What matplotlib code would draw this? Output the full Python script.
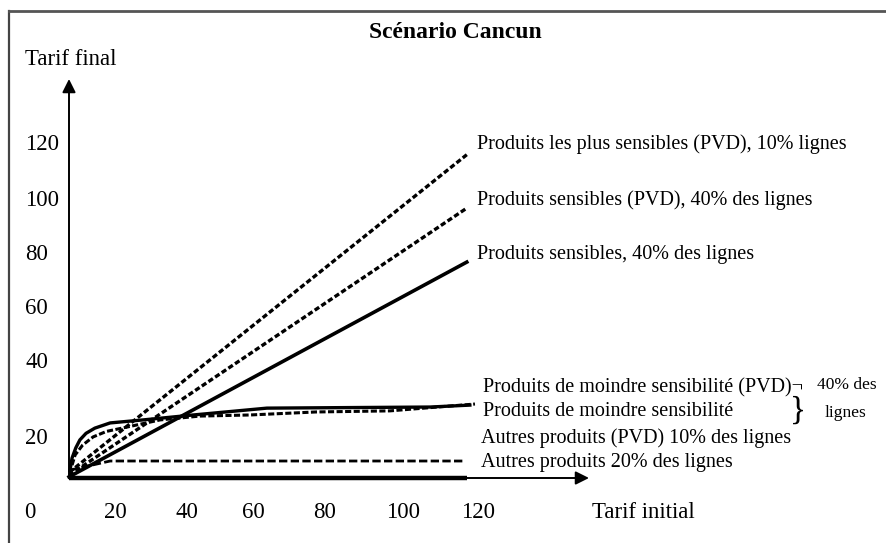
import matplotlib
matplotlib.use("Agg")
import matplotlib.pyplot as plt
from matplotlib.lines import Line2D

plt.rcParams['font.family'] = ['Liberation Serif', 'DejaVu Serif']

# ---------------- data ----------------
# straight lines: x = tarif initial, y = tarif final
x_lin = [0, 117]
y_plus_sensibles_pvd = [2, 118]
y_sensibles_pvd = [1, 98.5]
y_sensibles = [0.4, 78.8]

# curves for less-sensitive products
x_moindre_pvd = [0.3, 0.9, 2.0, 3.2, 5.0, 7.6, 12.1, 21.8, 36.5, 58.2, 106.2, 117.9]
y_moindre_pvd = [2.9, 7.3, 11.0, 13.9, 16.3, 18.2, 20.1, 21.2, 23.0, 25.5, 25.9, 26.6]
x_moindre = [0.9, 1.8, 4.0, 7.1, 11.0, 17.1, 26.8, 38.5, 53.2, 72.6, 94.4, 119.4]
y_moindre = [4.7, 8.4, 12.0, 15.0, 17.0, 18.6, 21.2, 22.6, 23.0, 24.1, 24.5, 27.0]

# other products
x_autres_pvd = [0.3, 12.1, 116.5]
y_autres_pvd = [2.9, 6.2, 6.2]
x_autres = [0, 117]
y_autres = [0, 0]

y_tick_labels = ['120', '100', '80', '60', '40', '20']
x_tick_labels = ['20', '40', '60', '80', '100', '120']

line_labels = [
    'Produits les plus sensibles (PVD), 10% lignes',
    'Produits sensibles (PVD), 40% des lignes',
    'Produits sensibles, 40% des lignes',
    'Produits de moindre sensibilité (PVD)¬',
    'Produits de moindre sensibilité',
    'Autres produits (PVD) 10% des lignes',
    'Autres produits 20% des lignes',
]

# ---------------- layout ----------------
W, H = 886, 543
fig = plt.figure(figsize=(W / 100, H / 100), dpi=100)
ax = fig.add_axes([0, 0, 1, 1])
ox, oy, sx, sy = 69, 478, 3.4, 2.74  # pixel origin and scale
ax.set_xlim(-ox / sx, (W - ox) / sx)
ax.set_ylim((oy - H) / sy, oy / sy)
ax.axis('off')


def fx(px):
    return px / W


def fy(py):
    return 1 - py / H


# frame (left and top borders)
fig.add_artist(Line2D([fx(8.5), fx(8.5)], [0, fy(10.5)], color='#444444', lw=1.6,
                      transform=fig.transFigure))
fig.add_artist(Line2D([fx(8.5), 1], [fy(10.5), fy(10.5)], color='#555555', lw=2.0,
                      transform=fig.transFigure))

# axes arrows
arrow = dict(arrowstyle='-|>', lw=1.4, color='black', mutation_scale=20,
             shrinkA=0, shrinkB=0)
ax.annotate('', xy=(0, (oy - 79) / sy), xytext=(0, 0), arrowprops=arrow)
ax.annotate('', xy=((589 - ox) / sx, 0), xytext=(0, 0), arrowprops=arrow)

dash_big = (0, (1.6, 0.8))
ax.plot(x_lin, y_plus_sensibles_pvd, color='black', lw=2.4, ls=dash_big)
ax.plot(x_lin, y_sensibles_pvd, color='black', lw=2.4, ls=dash_big)
ax.plot(x_lin, y_sensibles, color='black', lw=2.6)
ax.plot(x_moindre_pvd, y_moindre_pvd, color='black', lw=2.4)
ax.plot(x_moindre, y_moindre, color='black', lw=2.2, ls=(0, (2.0, 0.8)))
ax.plot(x_autres_pvd, y_autres_pvd, color='black', lw=2.0, ls=(0, (3.0, 1.2)))
ax.plot(x_autres, y_autres, color='black', lw=3.2, solid_capstyle='butt')

# title and axis titles
fig.text(fx(455), fy(33), 'Scénario Cancun', ha='center', va='center',
         fontsize=17, fontweight='bold')
fig.text(fx(25), fy(60), 'Tarif final', ha='left', va='center', fontsize=16.5)
fig.text(fx(592), fy(512), 'Tarif initial', ha='left', va='center', fontsize=16.5)

# tick labels (schematic positions)
y_tick_py = [144, 200, 254, 308, 363, 438]
for lab, py in zip(y_tick_labels, y_tick_py):
    fig.text(fx(25), fy(py), lab, ha='left', va='center', fontsize=16.5)
x_tick_px = [115, 187, 253, 325, 403, 478]
for lab, px in zip(x_tick_labels, x_tick_px):
    fig.text(fx(px), fy(512), lab, ha='center', va='center', fontsize=16.5)
fig.text(fx(30), fy(512), '0', ha='center', va='center', fontsize=16.5)

# line labels
label_pos = [(477, 144), (477, 200), (477, 254), (483, 388), (483, 412),
             (481, 438), (481, 462)]
for lab, (px, py) in zip(line_labels, label_pos):
    fig.text(fx(px), fy(py), lab, ha='left', va='center', fontsize=14.5)

fig.text(fx(798), fy(411), '}', ha='center', va='center', fontsize=24)
fig.text(fx(817), fy(385), '40% des', ha='left', va='center', fontsize=12.5)
fig.text(fx(825), fy(413), 'lignes', ha='left', va='center', fontsize=12.5)

fig.savefig('out.png', dpi=100)
